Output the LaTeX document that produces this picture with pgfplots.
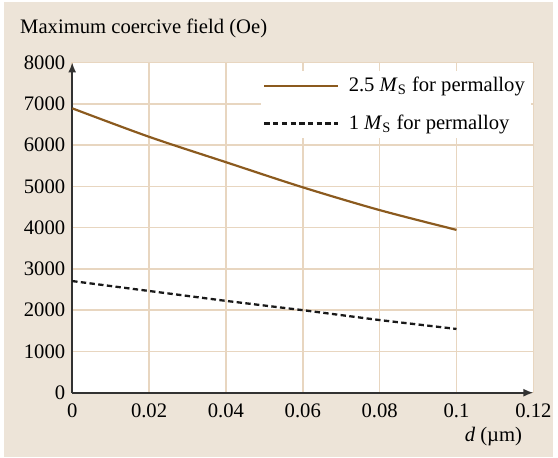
\documentclass[border=0pt]{standalone}
\usepackage{fontspec}
\setmainfont{Liberation Serif}
\usepackage{pgfplots}
\pgfplotsset{compat=1.18}
\usetikzlibrary{arrows.meta}
\definecolor{bgbeige}{RGB}{237,228,216}
\definecolor{gridbeige}{RGB}{232,214,192}
\definecolor{curvebrown}{RGB}{139,90,30}
\definecolor{axisdark}{RGB}{50,50,50}
\begin{document}
\begin{tikzpicture}[x=1pt,y=1pt]
\fill[white] (0,0) rectangle (279,230.5);
\fill[bgbeige] (2,0) rectangle (279,229.5);
\node[anchor=base west, inner sep=0pt, font=\fontsize{10.4}{12}\selectfont] at (10,213.5) {Maximum coercive field (Oe)};
\begin{axis}[
  at={(36.4pt,32.5pt)}, anchor=south west,
  scale only axis, width=232.5pt, height=166.5pt,
  font=\fontsize{10.4}{12}\selectfont,
  xmin=0, xmax=0.12, ymin=0, ymax=8000,
  xtick={0,0.02,0.04,0.06,0.08,0.1,0.12},
  ytick={0,1000,2000,3000,4000,5000,6000,7000,8000},
  /pgf/number format/assume math mode=true,
  /pgf/number format/1000 sep={},
  xticklabel style={/pgf/number format/fixed, /pgf/number format/precision=2, yshift=-2pt},
  major tick length=0pt,
  grid=major,
  grid style={gridbeige, line width=0.75pt},
  axis background/.style={fill=white},
  axis x line=bottom, axis y line=left,
  axis line style={axisdark, line width=0.8pt, -{Latex[length=5pt,width=4pt]}},
  xlabel={\textit{d} (µm)},
  xlabel style={at={(rel axis cs:1,0)}, anchor=base east, inner sep=0pt, xshift=-5.5pt, yshift=-24.5pt},
  legend style={at={(rel axis cs:0.409,0.872)}, anchor=west, draw=none, fill=white, inner sep=1pt, row sep=6pt, font=\fontsize{10.4}{12}\selectfont},
  legend cell align=left,
  legend image code/.code={\draw[#1] (0pt,0pt) -- (37pt,0pt); \path (40pt,0pt);},
]
\addplot[curvebrown, line width=1.1pt, smooth] coordinates {
(0,6890) (0.02,6200) (0.04,5585) (0.06,4976) (0.08,4424) (0.1,3945)};
\addlegendentry{2.5 \textit{M}\textsubscript{S} for permalloy}
\addplot[black!90, line width=1.15pt, dash pattern=on 2.7pt off 1.7pt] coordinates {
(0,2705) (0.02,2465) (0.04,2225) (0.06,2000) (0.08,1760) (0.1,1545)};
\addlegendentry{1 \textit{M}\textsubscript{S} for permalloy}
\end{axis}
\end{tikzpicture}
\end{document}
